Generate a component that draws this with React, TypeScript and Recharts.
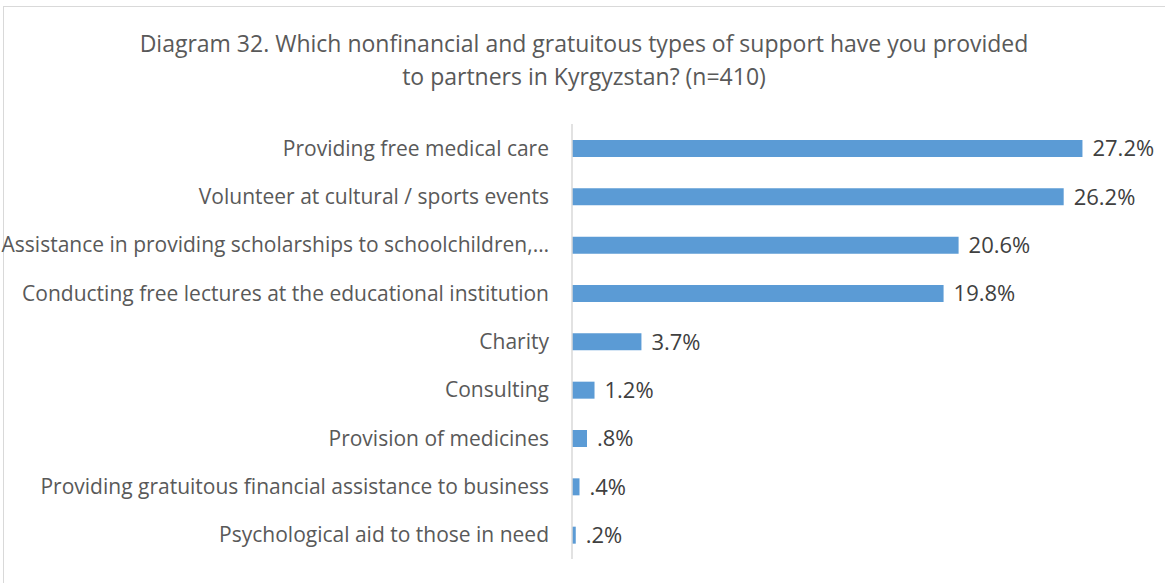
import React from 'react';
import { BarChart, Bar, XAxis, YAxis, LabelList } from 'recharts';

const categories = [
  'Providing free medical care',
  'Volunteer at cultural / sports events',
  'Assistance in providing scholarships to schoolchildren,…',
  'Conducting free lectures at the educational institution',
  'Charity',
  'Consulting',
  'Provision of medicines',
  'Providing gratuitous financial assistance to business',
  'Psychological aid to those in need',
];
const shares = [27.2, 26.2, 20.6, 19.8, 3.7, 1.2, 0.8, 0.4, 0.2];

const data = categories.map((name, i) => ({ name, value: shares[i] }));

// Excel style: drop the leading zero under 1%
const fmt = (v: number) => (v < 1 ? `${v.toFixed(1).replace(/^0/, '')}%` : `${v.toFixed(1)}%`);

const FONT = '"Open Sans", "Liberation Sans", sans-serif';

const App: React.FC = () => {
  return (
    <div style={{ position: 'absolute', top: 0, left: 0, width: 1165, height: 583, background: '#fff', fontFamily: FONT }}>
      {/* frame */}
      <div style={{ position: 'absolute', left: 3, top: 6, width: 1170, height: 590, border: '1px solid #D9D9D9', boxSizing: 'border-box' }} />

      {/* Title */}
      <div style={{ position: 'absolute', top: 27, left: 0, width: 1168, textAlign: 'center', fontSize: 23, lineHeight: '33px', color: '#595959' }}>
        Diagram 32. Which nonfinancial and gratuitous types of support have you provided
        <br />
        to partners in Kyrgyzstan? (n=410)
      </div>

      <BarChart
        width={1165}
        height={583}
        data={data}
        layout="vertical"
        margin={{ top: 124, right: 30, bottom: 24, left: 0 }}
        style={{ position: 'absolute', top: 0, left: 0 }}
      >
        <XAxis type="number" domain={[0, 30]} hide />
        <YAxis
          type="category"
          dataKey="name"
          width={572}
          tickLine={false}
          tickSize={0}
          tickMargin={23}
          axisLine={{ stroke: '#D9D9D9', strokeWidth: 1.5 }}
          tick={{ fill: '#595959', fontSize: 21, fontFamily: FONT }}
          interval={0}
        />
        <Bar dataKey="value" fill="#5B9BD5" barSize={17} isAnimationActive={false}>
          <LabelList
            dataKey="value"
            position="right"
            offset={10}
            formatter={(v: any) => fmt(Number(v))}
            style={{ fill: '#404040', fontSize: 22, fontFamily: FONT }}
          />
        </Bar>
      </BarChart>
    </div>
  );
};

export default App;
